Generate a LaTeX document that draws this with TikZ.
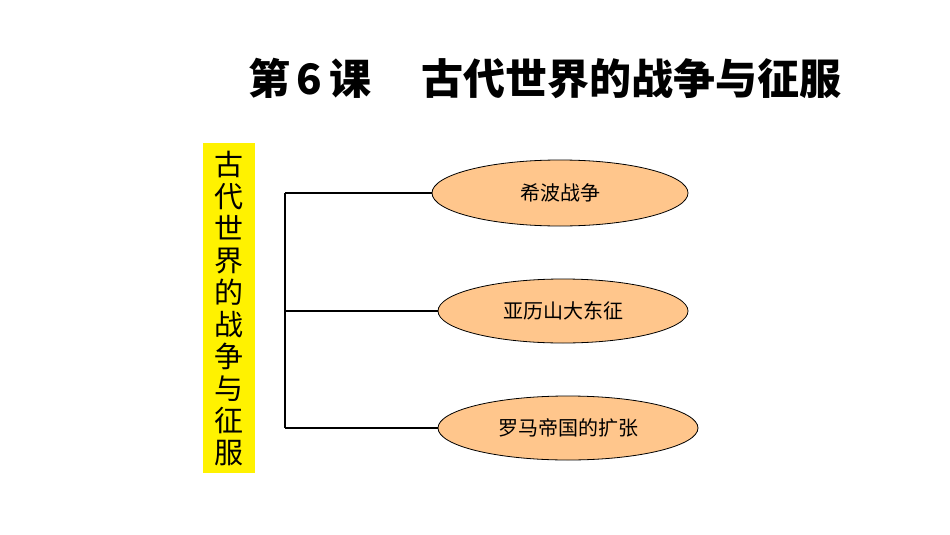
\documentclass[tikz,border=0pt]{standalone}
\usepackage{fontspec}
\newfontfamily\cjk{Noto Sans CJK SC}
\usetikzlibrary{shapes.geometric}
\begin{document}
\begin{tikzpicture}[x=1pt,y=-1pt,
  topic/.style={ellipse,draw=black,fill=orange!45!white,line width=0.8pt,minimum width=256pt,minimum height=66pt,font=\cjk\fontsize{20}{20}\selectfont},
  link/.style={line width=2.2pt}]
\useasboundingbox (0,0) rectangle (950,535);
\node[font=\cjk\bfseries\fontsize{42}{42}\selectfont,anchor=center] (title) at (545,78) {第\,\textbf{6}\,课\hspace{1.2em}古代世界的战争与征服};
\node[fill=yellow,minimum width=52pt,minimum height=330pt,inner sep=0pt,font=\cjk\fontsize{29}{32}\selectfont,align=center] (side) at (229,308)
 {古\\代\\世\\界\\的\\战\\争\\与\\征\\服};
\node[topic] (a) at (560,193) {希波战争};
\node[topic,minimum width=250pt,minimum height=64pt] (b) at (563,311) {亚历山大东征};
\node[topic,minimum width=260pt,minimum height=64pt] (c) at (568,428) {罗马帝国的扩张};
\coordinate (t) at (285,193);
\coordinate (m) at (285,311);
\coordinate (u) at (285,428);
\draw[link] (t) -- (u);
\draw[link] (t) -- (a.west);
\draw[link] (m) -- (b.west);
\draw[link] (u) -- (c.west);
\end{tikzpicture}
\end{document}
